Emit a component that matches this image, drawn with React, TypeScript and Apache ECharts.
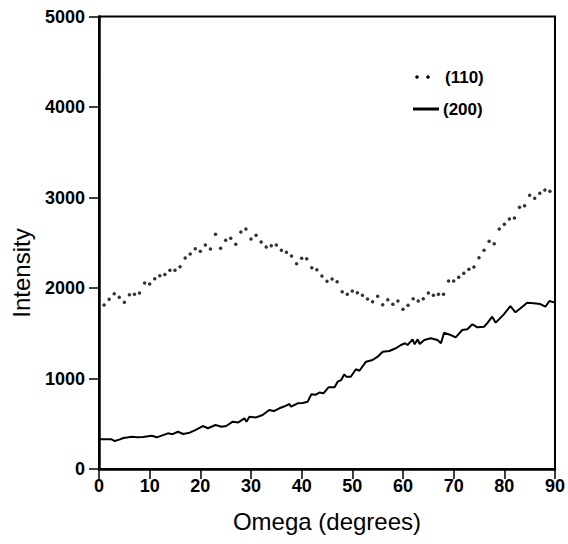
import React, { useEffect, useRef } from "react";
import * as echarts from "echarts";

// Omega positions (degrees) of the (110) reflection readings
const omega110: number[] = [
  1, 2, 3, 4, 5, 6, 7, 8, 9, 10, 11, 12, 13, 14, 15, 16, 17, 18, 19, 20,
  21, 22, 23, 24, 25, 26, 27, 28, 29, 30, 31, 32, 33, 34, 35, 36, 37, 38, 39, 40,
  41, 42, 43, 44, 45, 46, 47, 48, 49, 50, 51, 52, 53, 54, 55, 56, 57, 58, 59, 60,
  61, 62, 63, 64, 65, 66, 67, 68, 69, 70, 71, 72, 73, 74, 75, 76, 77, 78, 79, 80,
  81, 82, 83, 84, 85, 86, 87, 88, 89,
];

// (110) intensities
const intensity110: number[] = [
  1812, 1875, 1937, 1897, 1842, 1926, 1930, 1945, 2055, 2044,
  2103, 2136, 2149, 2196, 2196, 2235, 2331, 2376, 2434, 2406,
  2475, 2431, 2593, 2439, 2527, 2549, 2483, 2619, 2652, 2541,
  2582, 2508, 2453, 2467, 2475, 2416, 2394, 2354, 2268, 2328,
  2324, 2224, 2202, 2133, 2074, 2099, 2070, 1959, 1930, 1967,
  1948, 1919, 1878, 1849, 1908, 1816, 1871, 1820, 1856, 1765,
  1809, 1882, 1856, 1882, 1945, 1919, 1930, 1930, 2077, 2077,
  2118, 2162, 2207, 2232, 2335, 2416, 2516, 2490, 2652, 2704,
  2762, 2773, 2892, 2909, 3024, 2991, 3046, 3083, 3068,
];

// Omega positions (degrees) of the (200) reflection trace
const omega200: number[] = [
  0, 1, 2, 2.5, 3.1, 4, 4.8, 5.5, 6.4, 7.5, 8.7, 10.4, 11.4, 12.5, 13.6, 14.5,
  15.6, 16.6, 17.9, 19, 20.5, 21.5, 23, 24.2, 25.1, 26.4, 27.5, 28.7, 29.1, 29.7,
  31, 32.3, 33.6, 34.5, 35.6, 36.5, 37.6, 37.9, 39.2, 40.2, 41.2, 41.9, 42.7, 43.5,
  44.3, 45.3, 46.5, 47.1, 47.8, 48.4, 48.8, 49.7, 50.7, 51.4, 52.7, 54, 55, 56,
  57.3, 58.6, 59.6, 60.4, 60.9, 61.9, 62.3, 62.9, 63.3, 64.2, 65.5, 66.8, 67.5,
  68.1, 69.4, 70.4, 71.7, 72.7, 73.7, 74.7, 76, 76.6, 77.6, 78.3, 79.9, 81.2,
  82.2, 83.2, 84.5, 85.8, 87.1, 88.1, 88.9, 90,
];

// (200) intensities
const intensity200: number[] = [
  328, 330, 328, 328, 309, 325, 343, 348, 357, 352, 354, 368, 350, 372, 394, 385,
  412, 387, 401, 430, 475, 450, 486, 467, 475, 523, 515, 560, 523, 578,
  570, 597, 652, 640, 671, 690, 718, 688, 726, 730, 744, 825, 820, 845,
  836, 903, 903, 965, 983, 1046, 1020, 1020, 1102, 1086, 1186, 1204, 1241, 1296,
  1304, 1334, 1370, 1389, 1370, 1433, 1378, 1433, 1381, 1425, 1444, 1425, 1389,
  1506, 1481, 1455, 1536, 1544, 1599, 1566, 1572, 1610, 1683, 1617, 1709, 1801,
  1731, 1776, 1838, 1831, 1823, 1793, 1856, 1838,
];

const seriesNames = ["(110)", "(200)"];

const FONT = "'Liberation Sans', Arial, Helvetica, sans-serif";

export default function App() {
  const ref = useRef<HTMLDivElement>(null);

  useEffect(() => {
    if (!ref.current) return;
    const chart = echarts.init(ref.current, null, { renderer: "svg" });

    const data110 = omega110.map((x, i) => [x, intensity110[i]]);
    const data200 = omega200.map((x, i) => [x, intensity200[i]]);

    chart.setOption({
      animation: false,
      backgroundColor: "#fff",
      textStyle: { fontFamily: FONT, color: "#000" },
      grid: {
        left: 99,
        right: 12,
        top: 16.5,
        bottom: 75,
        show: true,
        borderColor: "#000",
        borderWidth: 2,
        backgroundColor: "transparent",
      },
      xAxis: {
        type: "value",
        min: 0,
        max: 90,
        interval: 10,
        name: "Omega (degrees)",
        nameLocation: "middle",
        nameGap: 40,
        nameTextStyle: { fontSize: 24, color: "#000", fontFamily: FONT },
        axisLine: { show: true, lineStyle: { color: "#000", width: 2.5 } },
        axisTick: { show: true, length: 10, lineStyle: { color: "#000", width: 1.5 } },
        axisLabel: {
          color: "#000",
          fontSize: 18,
          fontWeight: "bold",
          margin: 8,
          fontFamily: FONT,
        },
        splitLine: { show: false },
      },
      yAxis: {
        type: "value",
        min: 0,
        max: 5000,
        interval: 1000,
        axisLine: { show: true, lineStyle: { color: "#000", width: 2.5 } },
        axisTick: { show: true, length: 10, lineStyle: { color: "#000", width: 1.5 } },
        axisLabel: {
          color: "#000",
          fontSize: 18,
          fontWeight: "bold",
          margin: 14,
          fontFamily: FONT,
          formatter: (v: number) => String(v),
        },
        splitLine: { show: false },
      },
      series: [
        {
          name: seriesNames[0],
          type: "scatter",
          data: data110,
          symbol: "circle",
          symbolSize: 3.5,
          itemStyle: { color: "#000" },
        },
        {
          name: seriesNames[1],
          type: "line",
          data: data200,
          showSymbol: false,
          lineStyle: { color: "#000", width: 2 },
        },
      ],
      graphic: [
        // y-axis title
        {
          type: "text",
          x: 21,
          y: 273,
          rotation: Math.PI / 2,
          style: {
            text: "Intensity",
            fill: "#000",
            font: `24px ${FONT}`,
            align: "center",
            verticalAlign: "middle",
          },
        },
        // legend
        { type: "circle", shape: { cx: 417, cy: 77, r: 1.8 }, style: { fill: "#000" } },
        { type: "circle", shape: { cx: 428, cy: 77, r: 1.8 }, style: { fill: "#000" } },
        {
          type: "text",
          x: 445,
          y: 77,
          style: {
            text: seriesNames[0],
            fill: "#000",
            font: `bold 17px ${FONT}`,
            verticalAlign: "middle",
          },
        },
        {
          type: "line",
          shape: { x1: 413, y1: 109, x2: 439, y2: 109 },
          style: { stroke: "#000", lineWidth: 3 },
        },
        {
          type: "text",
          x: 443,
          y: 109,
          style: {
            text: seriesNames[1],
            fill: "#000",
            font: `bold 17px ${FONT}`,
            verticalAlign: "middle",
          },
        },
      ],
    });

    return () => chart.dispose();
  }, []);

  return (
    <div
      ref={ref}
      style={{ position: "fixed", left: 0, top: 0, width: 568, height: 544 }}
    />
  );
}
